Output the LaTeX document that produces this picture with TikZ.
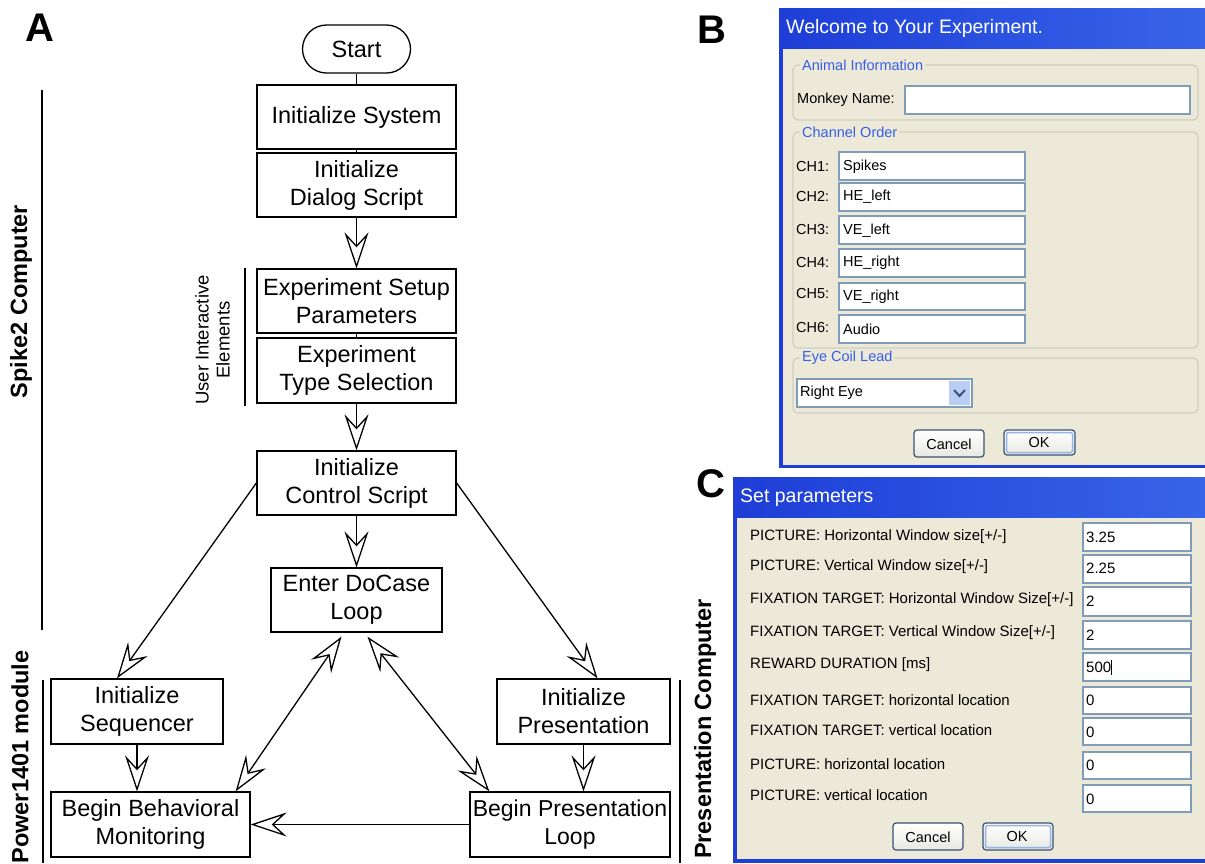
\documentclass[tikz,border=0pt]{standalone}
\usepackage{fontspec}
\setmainfont{Liberation Sans}
\usetikzlibrary{arrows.meta,calc}
\newcommand{\flowfont}{\fontsize{23.5}{28}\selectfont}
\newcommand{\sidefont}{\fontsize{23.5}{28}\selectfont\bfseries}
\newcommand{\dlgfont}{\fontsize{14.5}{17}\selectfont}
\newcommand{\parfont}{\fontsize{15}{18}\selectfont}
\newcommand{\ttlfont}{\fontsize{19.5}{23}\selectfont}
\definecolor{xpbody}{RGB}{236,233,216}
\definecolor{xpblue}{RGB}{30,62,215}
\definecolor{xplight}{RGB}{55,100,232}
\definecolor{xpgroup}{RGB}{55,95,230}
\definecolor{xpfield}{RGB}{127,157,185}
\definecolor{xpline}{RGB}{208,208,191}
\definecolor{xpbtn}{RGB}{60,82,115}
\definecolor{xpok}{RGB}{150,180,232}
\definecolor{xpdrop}{RGB}{185,205,245}

\begin{document}
\begin{tikzpicture}[x=1pt,y=-1pt,
  box/.style={draw,line width=1.3pt,align=center,inner sep=0pt,font=\flowfont,minimum width=199pt,minimum height=64pt},
  arr/.style={line width=1.3pt,-{Stealth[open,length=36pt,width=24pt,inset=13pt]}},
  darr/.style={line width=1.3pt,{Stealth[open,length=36pt,width=24pt,inset=13pt]}-{Stealth[open,length=36pt,width=24pt,inset=13pt]}},
  side/.style={rotate=90,font=\sidefont},
  panel/.style={font=\fontsize{40}{48}\selectfont\bfseries},
  field/.style={fill=white,draw=xpfield,line width=1.5pt},
  grp/.style={draw=xpline,line width=1.2pt,rounded corners=5pt},
  gtitle/.style={fill=xpbody,text=xpgroup,font=\dlgfont,inner sep=2pt,anchor=west},
  lbl/.style={anchor=west,font=\dlgfont,inner sep=0pt},
  plbl/.style={anchor=west,font=\parfont,inner sep=0pt},
  btn/.style={top color=white,bottom color={rgb,255:red,232;green,232;blue,226},draw=xpbtn,line width=1.2pt,rounded corners=3pt}]
  \useasboundingbox (0,0) rectangle (1205,863);

  % panel A
  \node[panel] (PA) at (40,28) {A};
  \node[box,rounded corners=24pt,minimum width=108pt,minimum height=48pt] (Start) at (356.5,49) {Start};
  \node[box] (IS) at (356.5,117) {Initialize System};
  \node[box] (IDS) at (356.5,185) {Initialize\\Dialog Script};
  \node[box] (ESP) at (356.5,301) {Experiment Setup\\Parameters};
  \node[box,minimum height=65pt] (ETS) at (356.5,370.5) {Experiment\\Type Selection};
  \node[box] (ICS) at (356.5,483) {Initialize\\Control Script};
  \node[box,minimum width=171pt] (EDL) at (356.5,600) {Enter DoCase\\Loop};
  \node[box,minimum width=172pt,minimum height=65pt] (IQ) at (137,711.5) {Initialize\\Sequencer};
  \node[box,minimum height=65pt] (BBM) at (150.5,824.5) {Begin Behavioral\\Monitoring};
  \node[box,minimum width=173pt,minimum height=65pt] (IP) at (583.5,711.5) {Initialize\\Presentation};
  \node[box,minimum width=200pt,minimum height=65pt,font=\fontsize{23}{28}\selectfont] (BPL) at (570,824.5) {Begin Presentation\\Loop};

  \node[side] (SC) at (21,301.5) {Spike2 Computer};
  \node[side] (PM) at (20,757) {Power1401 module};
  \node[side] (PCo) at (705,729) {Presentation Computer};
  \node[rotate=90,align=center,font=\fontsize{18.5}{21}\selectfont] (UIE) at (212.5,340) {User Interactive\\Elements};
  \draw[line width=1.3pt] (42,90) -- (42,630) (43,680) -- (43,863) (680,680) -- (680,863) (245,268) -- (245,406);

  \begin{scope}[line width=1.3pt]
    \draw (Start) edge (IS) (IS) edge (IDS) (ESP) edge (ETS);
    \draw (IDS) edge[arr] (ESP) (ETS) edge[arr] (ICS) (ICS) edge[arr] (EDL);
    \draw (ICS.west) edge[arr] ([xshift=-20pt]IQ.north)
          (ICS.east) edge[arr] ([xshift=14pt]IP.north);
    \draw (IQ) edge[arr] (IQ.south |- BBM.north)
          (IP) edge[arr] (IP.south |- BPL.north)
          (BPL) edge[arr] (BBM);
    \draw ([xshift=-15pt,yshift=-4pt]EDL.south) edge[darr] ([xshift=-15pt]BBM.north east)
          ([xshift=11pt,yshift=-4pt]EDL.south) edge[darr] ([xshift=20pt]BPL.north west);
  \end{scope}

  % panel B
  \node[panel] (PB) at (712,30) {B};
  \fill[xpblue] (779,8) rectangle (1205,468);
  \fill[xpbody] (783,48) rectangle (1205,465);
  \shade[left color=xpblue,right color=xplight] (782,8) rectangle (1205,48);
  \node[anchor=west,text=white,font=\ttlfont,inner sep=0pt] (BT) at (786,28) {Welcome to Your Experiment.};

  \draw[grp] (793,65) rectangle (1198,120);
  \node[gtitle] (AI) at (800,65) {Animal Information};
  \node[lbl] (MN) at (797,100) {Monkey Name:};
  \draw[field] (905,86) rectangle (1190,114);

  \draw[grp] (793,132) rectangle (1198,348);
  \node[gtitle] (CO) at (800,132) {Channel Order};
  \draw[field] (839,152) rectangle (1025,180);
  \draw[field] (839,183) rectangle (1025,211);
  \draw[field] (839,216) rectangle (1025,244);
  \draw[field] (839,249) rectangle (1025,277);
  \draw[field] (839,283) rectangle (1025,310);
  \draw[field] (839,315) rectangle (1025,343);
  \node[lbl] (L1) at (796,167) {CH1:};
  \node[lbl] (L2) at (796,197) {CH2:};
  \node[lbl] (L3) at (796,230) {CH3:};
  \node[lbl] (L4) at (796,263) {CH4:};
  \node[lbl] (L5) at (796,294) {CH5:};
  \node[lbl] (L6) at (796,328) {CH6:};
  \node[lbl] (V1) at (843,167) {Spikes};
  \node[lbl] (V2) at (843,197) {HE\_left};
  \node[lbl] (V3) at (843,231) {VE\_left};
  \node[lbl] (V4) at (843,263) {HE\_right};
  \node[lbl] (V5) at (843,297) {VE\_right};
  \node[lbl] (V6) at (843,329) {Audio};

  \draw[grp] (793,358) rectangle (1198,413);
  \node[gtitle] (EC) at (800,358) {Eye Coil Lead};
  \draw[field] (797,379) rectangle (972,407);
  \fill[xpdrop] (949,381) rectangle (970,405);
  \draw[xpbtn,line width=2pt] (954,390) -- (959.5,396) -- (965,390);
  \node[lbl] (RE) at (800,393) {Right Eye};

  \draw[btn] (914,430) rectangle (984,457);
  \node[font=\dlgfont] (BC) at (949,444) {Cancel};
  \draw[btn] (1004,430) rectangle (1075,455);
  \draw[xpok,line width=1.5pt,rounded corners=2pt] (1006.5,432.5) rectangle (1072.5,452.5);
  \node[font=\dlgfont] (BO) at (1039,442) {OK};

  % panel C
  \node[panel] (PC) at (711,484) {C};
  \fill[xpblue] (733,477) rectangle (1205,863);
  \fill[xpbody] (737,517) rectangle (1205,859);
  \shade[left color=xpblue,right color=xplight] (736,477) rectangle (1205,517);
  \node[anchor=west,text=white,font=\ttlfont,inner sep=0pt] (CT) at (740,498) {Set parameters};

  \node[plbl] (P1) at (750,537) {PICTURE: Horizontal Window size[+/-]};
  \node[plbl] (P2) at (750,567) {PICTURE: Vertical Window size[+/-]};
  \node[plbl] (P3) at (750,600) {FIXATION TARGET: Horizontal Window Size[+/-]};
  \node[plbl] (P4) at (750,633) {FIXATION TARGET: Vertical Window Size[+/-]};
  \node[plbl] (P5) at (750,665) {REWARD DURATION [ms]};
  \node[plbl] (P6) at (750,700) {FIXATION TARGET: horizontal location};
  \node[plbl] (P7) at (750,730) {FIXATION TARGET: vertical location};
  \node[plbl] (P8) at (750,764) {PICTURE: horizontal location};
  \node[plbl] (P9) at (750,795) {PICTURE: vertical location};
  \draw[field] (1083,523) rectangle (1191,551);
  \draw[field] (1083,555) rectangle (1191,583);
  \draw[field] (1083,587) rectangle (1191,616);
  \draw[field] (1083,621) rectangle (1191,649);
  \draw[field] (1083,653) rectangle (1191,681);
  \draw[field] (1083,687) rectangle (1191,714);
  \draw[field] (1083,718) rectangle (1191,745);
  \draw[field] (1083,752) rectangle (1191,779);
  \draw[field] (1083,785) rectangle (1191,812);
  \node[plbl] (W1) at (1086,537) {3.25};
  \node[plbl] (W2) at (1086,568) {2.25};
  \node[plbl] (W3) at (1086,601) {2};
  \node[plbl] (W4) at (1086,635) {2};
  \node[plbl] (W5) at (1086,667) {500\rule[-2pt]{1.2pt}{15pt}};
  \node[plbl] (W6) at (1086,700) {0};
  \node[plbl] (W7) at (1086,732) {0};
  \node[plbl] (W8) at (1086,765) {0};
  \node[plbl] (W9) at (1086,799) {0};

  \draw[btn] (893,823) rectangle (963,850);
  \node[font=\dlgfont] (CC) at (928,837) {Cancel};
  \draw[btn] (983,823) rectangle (1053,850);
  \draw[xpok,line width=1.5pt,rounded corners=2pt] (985.5,825.5) rectangle (1050.5,847.5);
  \node[font=\dlgfont] (CO2) at (1017,836) {OK};
\end{tikzpicture}
\end{document}
